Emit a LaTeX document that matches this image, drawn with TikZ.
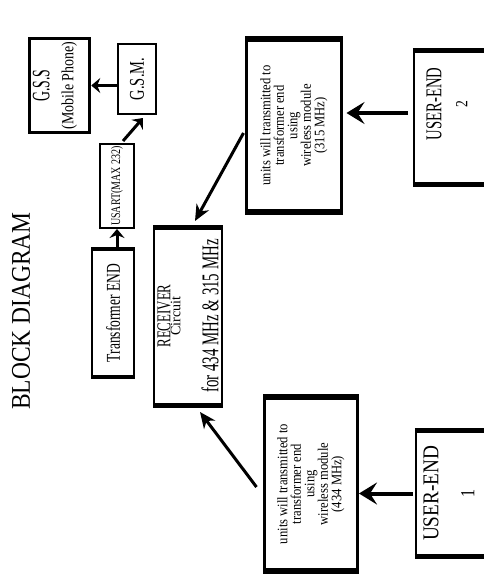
\documentclass[tikz,border=0pt]{standalone}
\usepackage{fontspec}
\setmainfont{Liberation Serif}
\usepackage{graphicx}
\usetikzlibrary{arrows.meta}
% 一行文字: 字号, 横向压缩, 内容
\newcommand{\bdline}[3]{\scalebox{#2}[1]{\fontsize{#1}{#1}\selectfont #3}}
% 竖排文字块
\newcommand{\bdtext}[3][0pt]{\rotatebox{90}{\hspace*{#1}\vbox{\baselineskip=#2\lineskiplimit=-\maxdimen\lineskip=0pt\halign{\hfil##\hfil\cr#3\crcr}}}}
\begin{document}
\begin{tikzpicture}[x=1pt,y=-1pt,
    blk/.style={draw,line width=2pt,inner sep=0pt},
    arr/.style={line width=3pt,-{Stealth[length=9pt,width=15pt,inset=3pt]}},
    diag/.style={line width=3pt,-{Stealth[length=16pt,width=14pt,inset=5pt]}},
    bigarr/.style={line width=4pt,-{Stealth[length=18pt,width=22pt,inset=7pt]}}]
        \useasboundingbox (0,0) rectangle (484,575);
        \clip (0,0) rectangle (484,575);
        % 标题
        \node (title) at (21,311) {\bdtext{27pt}{\bdline{27}{0.87}{BLOCK DIAGRAM}}};
        % 方框
        \node[blk,line width=3.5pt,minimum width=60pt,minimum height=94pt] (gss) at (59.5,85.5)
            {\bdtext{24pt}{\bdline{25}{0.55}{G.S.S}\cr\bdline{17}{0.82}{(Mobile Phone)}\cr\noalign{\kern9pt}}};
        \node[blk,minimum width=38pt,minimum height=70pt] (gsm) at (137,79)
            {\bdtext{20pt}{\bdline{21}{0.69}{G.S.M.}}};
        \node[blk,minimum width=34pt,minimum height=84pt] (usart) at (117,186)
            {\bdtext{13pt}{\bdline{13}{0.77}{USART(MAX 232)}}};
        \node[blk,minimum width=42pt,minimum height=126pt] (trf) at (113,313)
            {\bdtext{20pt}{\bdline{19.6}{0.69}{Transformer END}}};
        \node[blk,minimum width=68pt,minimum height=176pt] (rcv) at (188,316)
            {\bdtext{10pt}{\bdline{19.6}{0.66}{RECEIVER}\cr\bdline{14.5}{0.97}{Circuit}\cr
             \noalign{\kern28pt}\bdline{24}{0.62}{for 434 MHz \& 315 MHz}}};
        \node[blk,line width=3pt,minimum width=95pt,minimum height=170pt] (tx2) at (294,125.5)
            {\bdtext{13.5pt}{\bdline{14.5}{0.87}{units will transmitted to}\cr
             \bdline{14.5}{0.87}{transformer end}\cr\bdline{14.5}{0.87}{using}\cr
             \bdline{14.5}{0.87}{wireless module}\cr\bdline{14.5}{0.87}{(315 MHz)}}};
        \node[blk,line width=3pt,minimum width=93pt,minimum height=171pt] (tx1) at (311,484)
            {\bdtext{13.5pt}{\bdline{14.5}{0.87}{units will transmitted to}\cr
             \bdline{14.5}{0.87}{transformer end}\cr\bdline{14.5}{0.87}{using}\cr
             \bdline{14.5}{0.87}{wireless module}\cr\bdline{14.5}{0.87}{(434 MHz)}}};
        \node[blk,line width=2.5pt,minimum width=90pt,minimum height=132pt] (ue2) at (459,117.5)
            {\bdtext[27pt]{26pt}{\bdline{22.6}{0.65}{USER-END}\cr\bdline{17}{0.8}{2}\cr\noalign{\kern24pt}}};
        \node[blk,line width=2.5pt,minimum width=88pt,minimum height=124pt] (ue1) at (460,493.5)
            {\bdtext{36pt}{\bdline{22.6}{0.85}{USER-END}\cr\bdline{20}{0.8}{1}\cr\noalign{\kern22pt}}};
        % 粗边
        \foreach \b/\w in {trf/4,rcv/5,tx1/6,tx2/6,ue1/5,ue2/5}
            \draw[line width=\w pt] (\b.north west) -- (\b.north east) (\b.south west) -- (\b.south east);
        % 箭头
        \draw[arr] (gsm.west |- gss.east) -- (gss.east);
        \draw[arr] ([xshift=6pt,yshift=2pt]usart.north) -- ([xshift=6pt,yshift=-3pt]gsm.south);
        \draw[arr] (trf.north -| usart.south) -- (usart.south);
        \draw[diag] ([xshift=-1.5pt,yshift=-7.5pt]tx2.west) -- ([xshift=7pt,yshift=6pt]rcv.north);
        \draw[diag] ([xshift=-6.5pt,yshift=-3pt]tx1.west) -- ([xshift=12pt,yshift=-7pt]rcv.south);
        \coordinate (u2) at ([yshift=4.5pt]ue2.west);
        \draw[bigarr,shorten <=5pt,shorten >=3.5pt] (u2) -- (u2 -| tx2.east);
        \draw[bigarr,shorten <=2pt] (ue1.west) -- (ue1.west -| tx1.east);
    \end{tikzpicture}
\end{document}
